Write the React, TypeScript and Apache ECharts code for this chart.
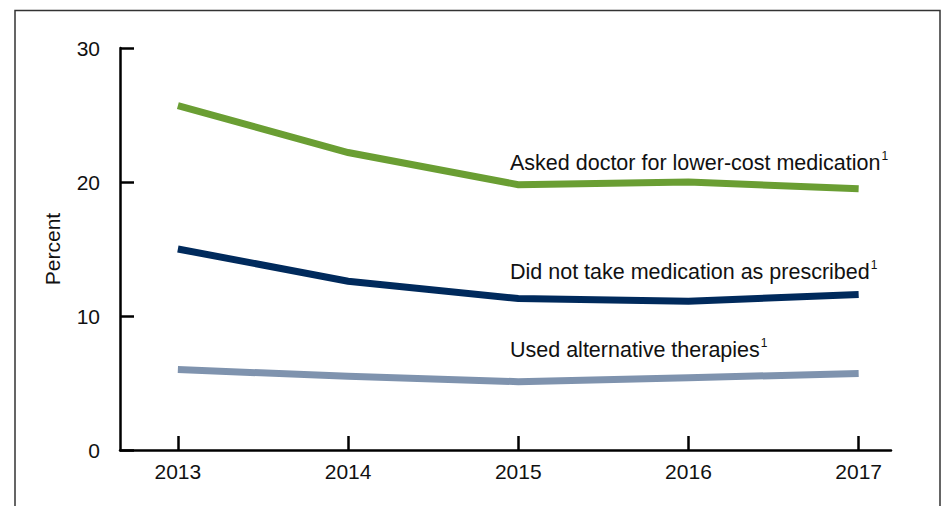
import React, { useEffect, useRef } from "react";
import * as echarts from "echarts";

const years = [2013, 2014, 2015, 2016, 2017];
const askedDoctor = [25.7, 22.2, 19.8, 20.0, 19.5];
const didNotTake = [15.0, 12.6, 11.3, 11.1, 11.6];
const alternative = [6.0, 5.5, 5.1, 5.4, 5.7];
const yTicks = [0, 10, 20, 30];
const seriesNames = [
  "Asked doctor for lower-cost medication",
  "Did not take medication as prescribed",
  "Used alternative therapies",
];

const FONT = "'Liberation Sans', Arial, sans-serif";

export default function App() {
  const ref = useRef<HTMLDivElement>(null);
  useEffect(() => {
    if (!ref.current) return;
    const chart = echarts.init(ref.current, undefined, { renderer: "svg" });
    const pair = (arr: number[]) => years.map((y, i) => [y, arr[i]]);
    const lineSeries = (name: string, arr: number[], color: string) => ({
      type: "line",
      name,
      data: pair(arr),
      symbol: "none",
      lineStyle: { color, width: 7, cap: "butt", join: "miter" },
      smooth: false,
      silent: true,
    });
    const label = (text: string, x: number, y: number) => ({
      type: "text",
      x,
      y,
      style: {
        text: `{m|${text}}{s|1}`,
        rich: {
          m: { fontFamily: FONT, fontSize: 21.5, fill: "#111", verticalAlign: "bottom" },
          s: { fontFamily: FONT, fontSize: 12, fill: "#111", verticalAlign: "top", padding: [0, 0, 12, 1] },
        },
        textVerticalAlign: "middle",
      },
    });
    chart.setOption({
      animation: false,
      backgroundColor: "#fff",
      grid: { left: 120, right: 54, top: 48, bottom: 56, containLabel: false },
      xAxis: {
        type: "value",
        min: 2012.66,
        max: 2017.19,
        splitLine: { show: false },
        axisLine: { show: true, lineStyle: { color: "#000", width: 2.5 } },
        axisTick: { show: true, inside: true, length: 14, lineStyle: { color: "#000", width: 2.5 }, customValues: years },
        axisLabel: { customValues: years, fontFamily: FONT, fontSize: 21, color: "#111", margin: 11, formatter: (v: number) => String(v) },
      },
      yAxis: {
        type: "value",
        min: yTicks[0],
        max: yTicks[yTicks.length - 1],
        interval: 10,
        name: "Percent",
        nameLocation: "middle",
        nameGap: 57,
        nameTextStyle: { fontFamily: FONT, fontSize: 21, color: "#111" },
        splitLine: { show: false },
        axisLine: { show: true, lineStyle: { color: "#000", width: 2.5 } },
        axisTick: { show: true, inside: true, length: 14, lineStyle: { color: "#000", width: 2.5 } },
        axisLabel: { fontFamily: FONT, fontSize: 21, color: "#111", margin: 20 },
      },
      graphic: [
        {
          type: "rect",
          shape: { x: 15, y: 10.5, width: 925, height: 520 },
          style: { fill: "none", stroke: "#333", lineWidth: 1.5 },
          silent: true,
          z: -1,
        },
        label(seriesNames[0], 510, 162),
        label(seriesNames[1], 510, 271),
        label(seriesNames[2], 510, 349),
      ],
      series: [
        lineSeries(seriesNames[0], askedDoctor, "#6a9e33"),
        lineSeries(seriesNames[1], didNotTake, "#002a5c"),
        lineSeries(seriesNames[2], alternative, "#7f93ae"),
      ],
    });
    return () => chart.dispose();
  }, []);
  return (
    <div
      ref={ref}
      style={{ position: "fixed", left: 0, top: 0, width: 945, height: 506, background: "#fff" }}
    />
  );
}
